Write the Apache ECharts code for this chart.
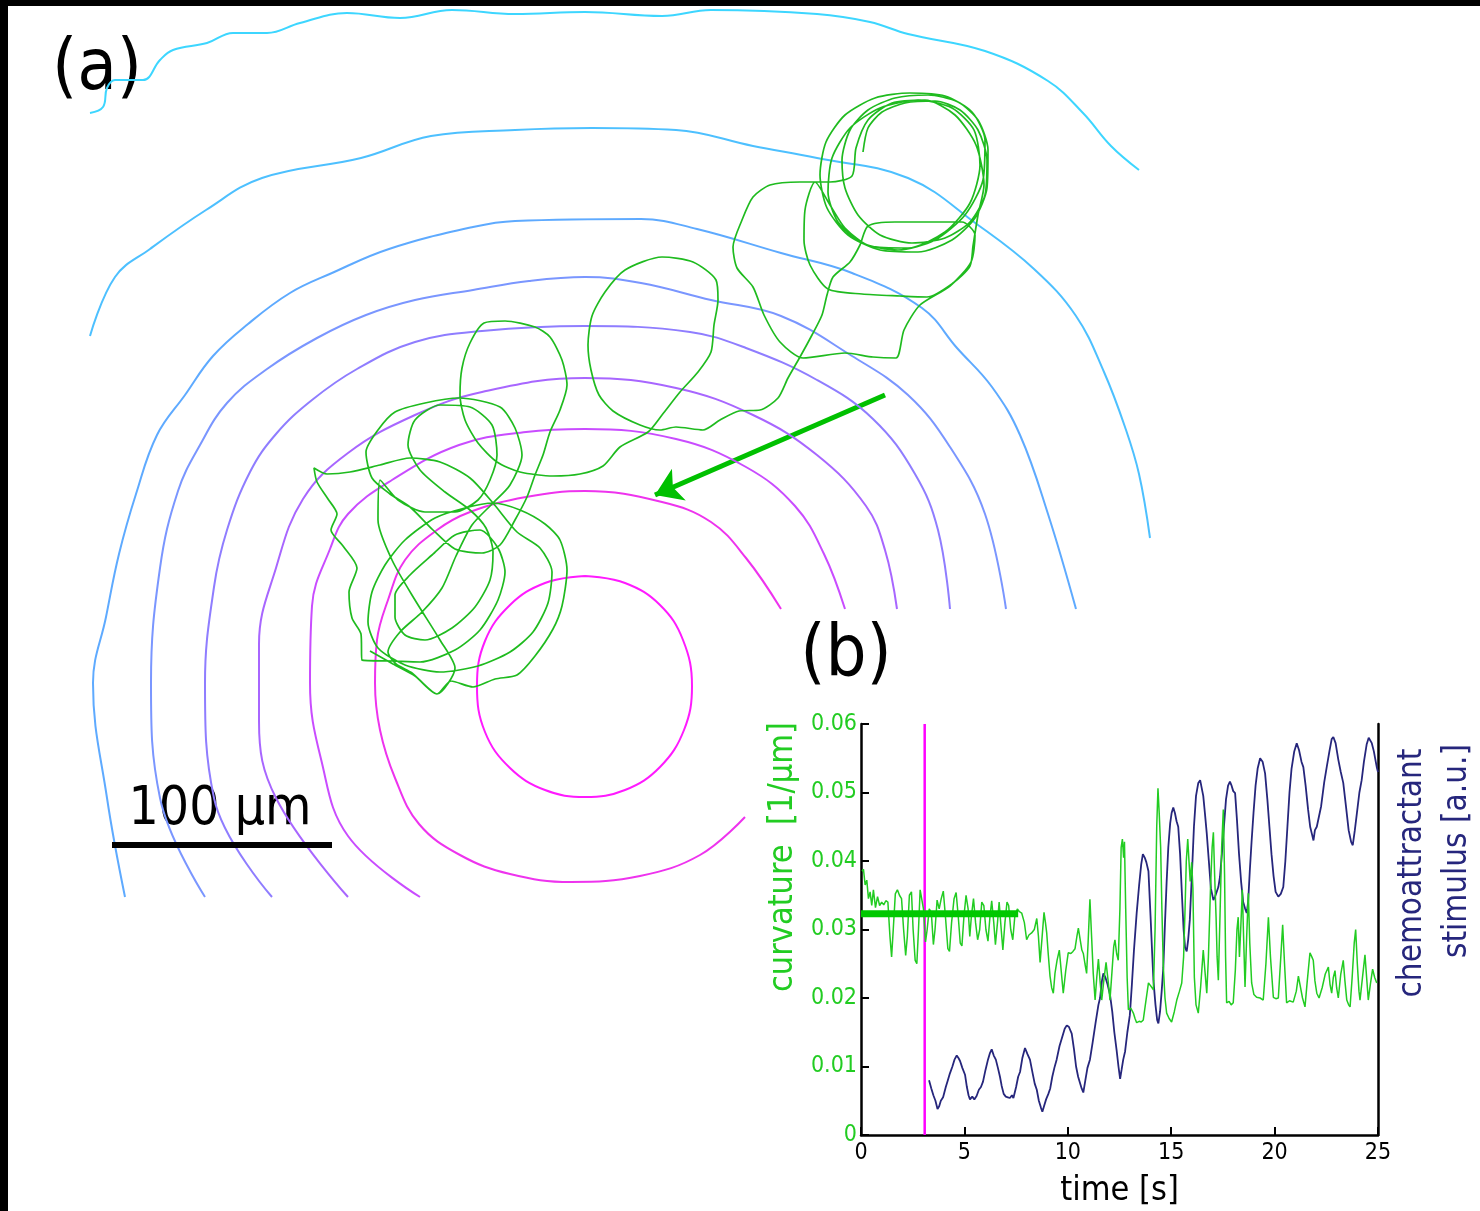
<!DOCTYPE html>
<html>
<head>
<meta charset="utf-8">
<title>curvature and chemoattractant</title>
<script src="https://cdn.jsdelivr.net/npm/echarts@6/dist/echarts.min.js"></script>
<style>
html, body { margin: 0; padding: 0; background: #fff; }
#chart { width: 1480px; height: 1211px; }
</style>
</head>
<body>
<div id="chart"></div>
<script>
// panel (a): wave fronts and track, in image units (2.2 units = 1 um)
var front1 = [[585,576],[625,583],[660,605],[683,640],[692,686],[684,730],[660,767],[625,790],[585,797],[545,790],[510,768],[485,732],[477,686],[485,641],[510,605],[545,583],[585,576]];
var front2 = [[781,609],[746,558],[711,522],[662,502],[585,491],[526,497],[470,512],[437,530],[405,560],[388,600],[377,640],[375,683],[380,730],[395,778],[419,824],[460,855],[510,874],[571,882],[640,876],[700,855],[745,817]];
var front3 = [[845,609],[824,554],[795,506],[746,467],[676,439],[585,429],[526,432],[459,445],[392,480],[348,514],[330,549],[312,606],[310,683],[321,759],[348,836],[420,897]];
var front4 = [[897,609],[885,550],[866,506],[817,455],[753,415],[676,388],[585,378],[482,392],[415,415],[348,453],[303,499],[276,568],[259,644],[259,721],[276,798],[348,897]];
var front5 = [[950,609],[938,530],[915,474],[873,419],[817,380],[746,348],[690,332],[585,326],[482,331],[415,342],[357,369],[312,400],[276,434],[250,472],[227,530],[214,587],[205,683],[214,798],[272,897]];
var front6 = [[1006,609],[985,514],[950,447],[908,395],[852,356],[781,316],[711,300],[641,283],[585,277],[529,281],[473,290],[415,300],[366,315],[317,338],[267,369],[227,403],[200,445],[178,491],[160,568],[151,683],[160,798],[205,897]];
var front7 = [[1076,609],[1048,514],[1020,435],[992,387],[957,348],[922,308],[852,273],[781,253],[697,229],[641,219],[515,221],[473,227],[389,249],[332,273],[290,293],[248,324],[213,356],[185,395],[157,435],[136,494],[119,554],[106,617],[93,683],[107,798],[125,897]];
var front8 = [[90,336],[115,277],[150,249],[206,210],[262,178],[361,158],[431,136],[515,130],[592,128],[676,130],[753,146],[817,158],[908,178],[978,225],[1034,269],[1076,316],[1104,372],[1125,427],[1139,474],[1150,538]];
var front9 = [[90,113],[103,107],[107,88],[115,80],[143,80],[160,60],[173,50],[207,43],[233,33],[267,33],[300,23],[347,13],[400,18],[452,10],[515,14],[585,12],[662,16],[711,10],[817,14],[870,22],[908,34],[985,51],[1048,81],[1083,113],[1111,146],[1139,170]];
var fronts = [front1, front2, front3, front4, front5, front6, front7, front8, front9];
var frontColors = ['#ff1aff', '#ee33ee', '#c94cff', '#a866ff', '#8f7dff', '#7a96ff', '#5eaaff', '#4dc0ff', '#3dd6ff'];

var trajectory = [
  [863,152],[868,128],[882,112],[905,103],[935,101],[960,110],[978,130],[987,160],[985,195],[970,222],[945,238],[912,243],[880,235],[858,215],[845,188],[842,160],[850,130],[868,110],[895,98],[928,95],[958,102],[978,120],[988,150],[987,188],[975,218],[952,240],[918,252],[880,250],[848,235],[827,208],[820,175],[826,142],[845,115],[875,98],[910,93],[945,96],[972,112],[985,140],[983,180],[965,215],[935,240],[898,250],[862,243],[838,222],[828,192],[832,158],[850,128],[880,108],[918,100],[952,108],[974,130],[980,165],[970,203],[945,232],[908,248],[870,246],[845,228],[830,205],
  [815,182],[805,210],[804,240],[810,265],[828,289],[862,294],[900,296],[927,297],[953,283],[970,266],[973,246],[978,215],[984,185],[976,145],[955,115],[925,100],[892,103],[868,120],[856,148],[852,176],
  [830,182],[800,182],[770,185],[753,197],[742,220],[733,247],[737,268],[753,287],[764,315],[780,342],[803,358],[845,353],[873,357],[896,358],[904,330],[920,305],[950,286],[971,262],[975,235],[962,222],[930,222],[895,222],[868,226],[860,245],[850,262],[833,277],
  [827,295],[822,315],[812,335],[800,357],[788,378],[778,398],[760,410],[739,411],[720,420],[703,430],[676,427],[660,430],[640,425],[613,411],[599,395],[591,370],[588,345],[592,316],[605,292],[625,270],[662,257],[693,262],[716,280],[718,300],[714,325],[711,352],[698,372],[680,392],[662,415],[648,432],[620,447],[603,466],[580,474],[553,476],[520,472],[497,462],[478,443],[465,420],[460,395],[462,368],[470,343],[484,323],[505,321],[535,327],[550,337],[562,360],[567,385],[560,410],[550,432],[543,455],[535,475],[527,497],
  [515,520],[500,545],[482,553],[455,549],[433,530],[410,507],[390,494],[372,478],[366,452],[378,430],[395,412],[425,403],[459,398],[500,407],[515,428],[522,455],[510,485],[493,503],[472,525],[456,556],[442,588],[422,612],[400,632],[388,652],[396,664],[412,673],[437,694],[451,681],[473,687],[495,679],[517,675],[535,656],[553,629],[562,606],[567,570],[560,540],[545,524],[520,510],[493,503],[465,508],[435,518],[405,540],[385,565],[372,592],[368,622],[378,648],[405,665],[440,672],[478,666],[510,652],[533,632],[548,603],[552,572],[540,548],[517,532],[493,503],[470,478],[440,462],[410,458],[380,465],[350,472],[327,474],[314,468],[317,482],[328,499],[337,514],[331,530],[343,546],[357,568],[349,592],[352,618],[361,634],[362,660],[393,661],[420,662],[455,650],[480,630],[498,600],[505,572],[498,548],[480,530],[455,535],[432,555],[410,575],[395,595],[395,617],[405,635],[425,640],[452,628],[475,607],[490,580],[493,552],[486,528],[470,510],[445,492],[420,470],[408,445],[415,420],[440,405],[470,407],[492,425],[497,455],[490,480],[478,500],[455,512],[425,512],[398,500],[380,480],[378,520],[392,560],[415,600],[440,640],[455,668],[437,694],[415,676],[393,664],[370,651]
];
var arrowCoords = [[885,395],[655,495]];
var scaleBarUm = 100;
var unitsPerUm = 2.2;
var scaleBarStart = [112,845];

// panel (b): time [s] vs curvature [1/um] and stimulus [a.u.]
var stimulusOnset = 3.08;
var meanCurvature = 0.0323;
var meanEnd = 7.6;
var curvature = [
  [0.05,0.0385],[0.12,0.0388],[0.2,0.0365],[0.28,0.0372],[0.36,0.0345],[0.44,0.0355],[0.52,0.0335],[0.6,0.0358],[0.7,0.0332],[0.8,0.0348],[0.9,0.0335],[1.0,0.034],[1.1,0.0336],[1.2,0.0342],[1.3,0.034],[1.4,0.029],[1.48,0.026],[1.56,0.03],[1.66,0.0352],[1.76,0.0358],[1.86,0.035],[1.96,0.0345],[2.06,0.03],[2.16,0.0262],[2.24,0.029],[2.34,0.035],[2.44,0.0355],[2.52,0.03],[2.62,0.0255],[2.7,0.025],[2.78,0.03],[2.86,0.0358],[2.94,0.036],[3.02,0.033],[3.12,0.0282],[3.2,0.03],[3.3,0.033],[3.4,0.0325],[3.5,0.0278],[3.58,0.03],[3.68,0.0343],[3.78,0.033],[3.88,0.0345],[3.98,0.0356],[4.08,0.032],[4.2,0.0272],[4.28,0.0268],[4.38,0.031],[4.5,0.0345],[4.6,0.0354],[4.7,0.032],[4.8,0.028],[4.88,0.0276],[4.98,0.032],[5.08,0.035],[5.18,0.033],[5.26,0.029],[5.34,0.032],[5.44,0.0345],[5.54,0.031],[5.64,0.0285],[5.74,0.03],[5.84,0.034],[5.94,0.0335],[6.04,0.03],[6.14,0.0283],[6.24,0.032],[6.32,0.0342],[6.42,0.031],[6.5,0.0278],[6.6,0.031],[6.68,0.034],[6.78,0.03],[6.86,0.027],[6.96,0.031],[7.06,0.034],[7.14,0.0335],[7.24,0.03],[7.34,0.0285],[7.44,0.032],[7.56,0.033],[7.66,0.0326],
  [7.77,0.0324],[7.9,0.031],[8.01,0.0285],[8.12,0.0292],[8.25,0.0295],[8.38,0.03],[8.5,0.0316],[8.58,0.029],[8.66,0.0252],[8.76,0.029],[8.85,0.0325],[8.92,0.031],[8.98,0.0295],[9.06,0.0262],[9.14,0.0232],[9.22,0.0215],[9.3,0.0207],[9.38,0.0236],[9.48,0.0255],[9.59,0.027],[9.68,0.024],[9.78,0.0207],[9.9,0.024],[10.02,0.0266],[10.15,0.0265],[10.25,0.0268],[10.35,0.0272],[10.44,0.029],[10.51,0.0302],[10.6,0.0285],[10.68,0.027],[10.75,0.0265],[10.83,0.025],[10.91,0.0236],[10.98,0.028],[11.07,0.0344],[11.15,0.029],[11.23,0.0236],[11.32,0.0197],[11.4,0.023],[11.48,0.0257],[11.56,0.0225],[11.64,0.0197],[11.74,0.0225],[11.85,0.0252],[11.95,0.0225],[12.04,0.0197],[12.14,0.024],[12.22,0.0275],[12.28,0.0285],[12.36,0.0265],[12.44,0.0255],[12.52,0.033],[12.58,0.042],[12.64,0.0432],[12.7,0.0405],[12.74,0.0428],[12.8,0.033],[12.87,0.023],[12.93,0.0183],[13.05,0.0185],[13.17,0.0178],[13.25,0.017],[13.33,0.0164],[13.45,0.0166],[13.55,0.0165],[13.65,0.0168],[13.75,0.019],[13.82,0.0205],[13.9,0.0222],[14.0,0.0218],[14.14,0.0212],[14.22,0.03],[14.3,0.045],[14.36,0.0506],[14.42,0.047],[14.49,0.042],[14.55,0.033],[14.62,0.0245],[14.7,0.02],[14.78,0.0178],[14.9,0.017],[15.02,0.0165],[15.15,0.018],[15.27,0.0197],[15.4,0.021],[15.51,0.0222],[15.6,0.026],[15.67,0.033],[15.73,0.04],[15.8,0.0432],[15.86,0.04],[15.92,0.037],[15.99,0.0398],[16.05,0.036],[16.12,0.023],[16.2,0.019],[16.31,0.0178],[16.42,0.0215],[16.55,0.027],[16.63,0.024],[16.72,0.0207],[16.8,0.026],[16.9,0.036],[16.98,0.042],[17.04,0.0442],[17.1,0.038],[17.17,0.0318],[17.22,0.026],[17.28,0.0226],[17.36,0.032],[17.44,0.042],[17.52,0.0475],[17.58,0.038],[17.63,0.026],[17.68,0.0193],[17.8,0.0195],[17.9,0.019],[18.0,0.0193],[18.1,0.024],[18.18,0.03],[18.24,0.0318],[18.3,0.026],[18.36,0.03],[18.44,0.0358],[18.5,0.029],[18.57,0.0216],[18.65,0.029],[18.73,0.0353],[18.8,0.028],[18.89,0.0222],[19.0,0.0205],[19.13,0.0201],[19.3,0.02],[19.45,0.0197],[19.58,0.025],[19.7,0.0318],[19.8,0.026],[19.94,0.0201],[20.06,0.0199],[20.18,0.02],[20.3,0.026],[20.39,0.0307],[20.48,0.025],[20.58,0.0193],[20.72,0.0196],[20.9,0.0194],[21.05,0.021],[21.15,0.0232],[21.23,0.0231],[21.35,0.02],[21.47,0.0187],[21.58,0.0225],[21.71,0.0266],[21.8,0.026],[21.87,0.0255],[21.95,0.0225],[22.04,0.0207],[22.15,0.02],[22.3,0.0215],[22.45,0.0235],[22.6,0.0245],[22.68,0.022],[22.76,0.0207],[22.84,0.023],[22.92,0.024],[23.0,0.0215],[23.08,0.02],[23.2,0.0235],[23.32,0.0255],[23.4,0.0225],[23.49,0.0197],[23.58,0.019],[23.65,0.0187],[23.75,0.023],[23.85,0.028],[23.92,0.03],[24.0,0.025],[24.08,0.021],[24.13,0.0197],[24.25,0.023],[24.37,0.0263],[24.45,0.023],[24.53,0.0197],[24.63,0.022],[24.74,0.0242],[24.84,0.023],[24.94,0.0222]
];
var stimulus = [
  [3.29,0.008],[3.4,0.0068],[3.5,0.0058],[3.6,0.005],[3.7,0.0038],[3.78,0.0042],[3.86,0.005],[3.97,0.0055],[4.1,0.007],[4.2,0.008],[4.3,0.009],[4.42,0.01],[4.52,0.011],[4.63,0.0116],[4.72,0.0112],[4.79,0.0108],[4.9,0.0098],[5.03,0.0088],[5.12,0.007],[5.2,0.0058],[5.27,0.0052],[5.38,0.0056],[5.48,0.0052],[5.59,0.0057],[5.7,0.0066],[5.8,0.007],[5.9,0.0078],[6.02,0.0095],[6.14,0.011],[6.24,0.012],[6.32,0.0125],[6.42,0.0116],[6.52,0.011],[6.62,0.0098],[6.72,0.0085],[6.8,0.0072],[6.9,0.006],[7.0,0.0056],[7.1,0.0055],[7.2,0.0054],[7.3,0.0058],[7.37,0.0054],[7.5,0.007],[7.6,0.0085],[7.69,0.0092],[7.8,0.0112],[7.93,0.0127],[8.05,0.0118],[8.17,0.011],[8.3,0.009],[8.4,0.0075],[8.5,0.0066],[8.6,0.005],[8.7,0.004],[8.77,0.0034],[8.85,0.0042],[8.95,0.0052],[9.06,0.006],[9.15,0.0068],[9.25,0.0085],[9.35,0.0098],[9.46,0.011],[9.6,0.013],[9.72,0.0142],[9.85,0.0155],[9.95,0.016],[10.05,0.0158],[10.19,0.0148],[10.3,0.0125],[10.4,0.01],[10.5,0.0085],[10.59,0.0076],[10.67,0.0068],[10.75,0.0062],[10.85,0.008],[10.95,0.0098],[11.07,0.011],[11.2,0.0135],[11.35,0.0165],[11.48,0.019],[11.56,0.02],[11.65,0.0225],[11.72,0.0236],[11.82,0.023],[11.92,0.022],[12.04,0.0205],[12.15,0.018],[12.25,0.015],[12.36,0.0124],[12.45,0.01],[12.53,0.0082],[12.6,0.0095],[12.68,0.011],[12.77,0.0122],[12.88,0.015],[13.0,0.0175],[13.1,0.022],[13.2,0.027],[13.33,0.0324],[13.45,0.0365],[13.55,0.0395],[13.63,0.041],[13.72,0.0405],[13.8,0.0398],[13.9,0.0385],[14.0,0.032],[14.08,0.0265],[14.14,0.0226],[14.24,0.019],[14.32,0.0168],[14.38,0.0163],[14.46,0.018],[14.54,0.021],[14.62,0.0245],[14.7,0.031],[14.78,0.037],[14.86,0.042],[14.95,0.0455],[15.02,0.047],[15.1,0.0478],[15.18,0.047],[15.26,0.0458],[15.34,0.045],[15.43,0.041],[15.52,0.035],[15.6,0.03],[15.67,0.0274],[15.75,0.0268],[15.82,0.0285],[15.9,0.0314],[16.0,0.038],[16.1,0.045],[16.2,0.0495],[16.31,0.0514],[16.4,0.0518],[16.47,0.0516],[16.55,0.0495],[16.63,0.047],[16.72,0.044],[16.82,0.04],[16.92,0.036],[17.04,0.0343],[17.12,0.0348],[17.2,0.035],[17.28,0.0362],[17.36,0.0377],[17.45,0.041],[17.55,0.045],[17.65,0.049],[17.75,0.051],[17.84,0.0516],[17.92,0.051],[18.0,0.0502],[18.09,0.0499],[18.18,0.046],[18.28,0.041],[18.38,0.037],[18.48,0.034],[18.58,0.033],[18.65,0.0324],[18.72,0.034],[18.8,0.0385],[18.89,0.043],[18.98,0.047],[19.08,0.051],[19.18,0.0535],[19.3,0.055],[19.42,0.0545],[19.54,0.0528],[19.65,0.049],[19.75,0.045],[19.85,0.041],[19.95,0.0378],[20.05,0.0355],[20.18,0.0348],[20.3,0.0352],[20.42,0.0362],[20.52,0.04],[20.62,0.045],[20.72,0.05],[20.82,0.0535],[20.95,0.056],[21.07,0.0572],[21.18,0.0562],[21.3,0.0545],[21.39,0.0537],[21.5,0.051],[21.62,0.0475],[21.72,0.045],[21.8,0.044],[21.88,0.043],[21.95,0.0445],[22.04,0.045],[22.12,0.0452],[22.25,0.048],[22.4,0.0515],[22.52,0.0537],[22.65,0.056],[22.76,0.0578],[22.84,0.0581],[22.95,0.0572],[23.08,0.0548],[23.2,0.053],[23.32,0.0514],[23.45,0.048],[23.58,0.0445],[23.7,0.0428],[23.78,0.0423],[23.88,0.0445],[23.98,0.047],[24.1,0.05],[24.21,0.0518],[24.32,0.0545],[24.45,0.057],[24.55,0.058],[24.61,0.0581],[24.7,0.0572],[24.8,0.056],[24.94,0.0537],[25.0,0.053]
];

var FONT = '"DejaVu Sans Condensed", "DejaVu Sans", sans-serif';
var GREEN = '#22cc22';
var NAVY = '#26267c';

var chart = echarts.init(document.getElementById('chart'), null, { renderer: 'canvas' });

var series = [];
fronts.forEach(function(pts, i) {
    series.push({
        type: 'line', xAxisIndex: 0, yAxisIndex: 0,
        data: pts, smooth: 0.4, symbol: 'none', silent: true,
        lineStyle: { color: frontColors[i], width: 2 }
    });
});
series.push({
    type: 'line', xAxisIndex: 0, yAxisIndex: 0,
    data: trajectory, smooth: 0.25, symbol: 'none', silent: true,
    lineStyle: { color: '#1fbb1f', width: 1.7 }
});
series.push({
    type: 'lines', coordinateSystem: 'cartesian2d', xAxisIndex: 0, yAxisIndex: 0,
    data: [{ coords: arrowCoords }],
    symbol: ['none', 'arrow'], symbolSize: 26, silent: true,
    lineStyle: { color: '#00c000', width: 5, opacity: 1, curveness: 0 }
});
series.push({
    type: 'line', xAxisIndex: 0, yAxisIndex: 0, symbol: 'none', silent: true,
    data: [scaleBarStart, [scaleBarStart[0] + scaleBarUm * unitsPerUm, scaleBarStart[1]]],
    lineStyle: { color: '#000', width: 6 }
});
// panel (b)
series.push({
    type: 'line', xAxisIndex: 1, yAxisIndex: 1, symbol: 'none', silent: true,
    data: [[stimulusOnset, 0], [stimulusOnset, 0.06]],
    lineStyle: { color: '#ff00ff', width: 2.5 }
});
series.push({
    type: 'line', xAxisIndex: 1, yAxisIndex: 2, symbol: 'none', silent: true,
    data: stimulus, lineStyle: { color: NAVY, width: 1.8 }
});
series.push({
    type: 'line', xAxisIndex: 1, yAxisIndex: 1, symbol: 'none', silent: true,
    data: curvature, lineStyle: { color: GREEN, width: 1.5 }
});
series.push({
    type: 'line', xAxisIndex: 1, yAxisIndex: 1, symbol: 'none', silent: true,
    data: [[0, meanCurvature], [meanEnd, meanCurvature]],
    lineStyle: { color: '#00c800', width: 7 }
});

function txt(text, x, y, size, color, rot) {
    return {
        type: 'text', x: x, y: y, rotation: rot || 0, silent: true,
        style: {
            text: text, fill: color, font: size + 'px ' + FONT,
            align: 'center', verticalAlign: 'middle',
            textAlign: 'center', textVerticalAlign: 'middle'
        }
    };
}

var option = {
    animation: false,
    backgroundColor: '#fff',
    grid: [
        { left: 0, top: 0, width: 1480, height: 1211 },
        { left: 861, top: 724, width: 517, height: 411 }
    ],
    xAxis: [
        { type: 'value', gridIndex: 0, min: 0, max: 1480, show: false },
        {
            type: 'value', gridIndex: 1, min: 0, max: 25, interval: 5,
            axisLine: { show: true, lineStyle: { color: '#000', width: 2.5 } },
            axisTick: { show: true, inside: true, length: 8, lineStyle: { color: '#000', width: 2 } },
            axisLabel: { color: '#000', fontSize: 23, fontFamily: FONT, margin: 7 },
            splitLine: { show: false },
            name: 'time [s]', nameLocation: 'middle', nameGap: 39,
            nameTextStyle: { color: '#000', fontSize: 34, fontFamily: FONT }
        }
    ],
    yAxis: [
        { type: 'value', gridIndex: 0, min: 0, max: 1211, inverse: true, show: false },
        {
            type: 'value', gridIndex: 1, min: 0, max: 0.06, interval: 0.01, position: 'left',
            axisLine: { show: true, lineStyle: { color: '#000', width: 2.5 } },
            axisTick: { show: true, inside: true, length: 8, lineStyle: { color: '#000', width: 2 } },
            axisLabel: {
                color: GREEN, fontSize: 23, fontFamily: FONT, margin: 4,
                formatter: function(v) { return v === 0 ? '0' : v.toFixed(2); }
            },
            splitLine: { show: false }
        },
        {
            type: 'value', gridIndex: 1, min: 0, max: 0.06, position: 'right',
            axisLine: { show: true, lineStyle: { color: '#000', width: 2.5 } },
            axisTick: { show: false }, axisLabel: { show: false },
            splitLine: { show: false }
        }
    ],
    graphic: [
        { type: 'rect', shape: { x: 0, y: 0, width: 1480, height: 6 }, style: { fill: '#000' }, silent: true },
        { type: 'rect', shape: { x: 0, y: 0, width: 8, height: 1211 }, style: { fill: '#000' }, silent: true },
        txt('(a)', 97, 70, 72, '#000'),
        txt('(b)', 846, 656, 72, '#000'),
        txt('100 \u00b5m', 220, 810, 53, '#000'),
        txt('curvature  [1/\u00b5m]', 783, 857, 34, GREEN, Math.PI / 2),
        txt('chemoattractant', 1412, 873, 33, NAVY, Math.PI / 2),
        txt('stimulus [a.u.]', 1457, 851, 33, NAVY, Math.PI / 2)
    ],
    series: series
};

chart.setOption(option);
</script>
</body>
</html>
